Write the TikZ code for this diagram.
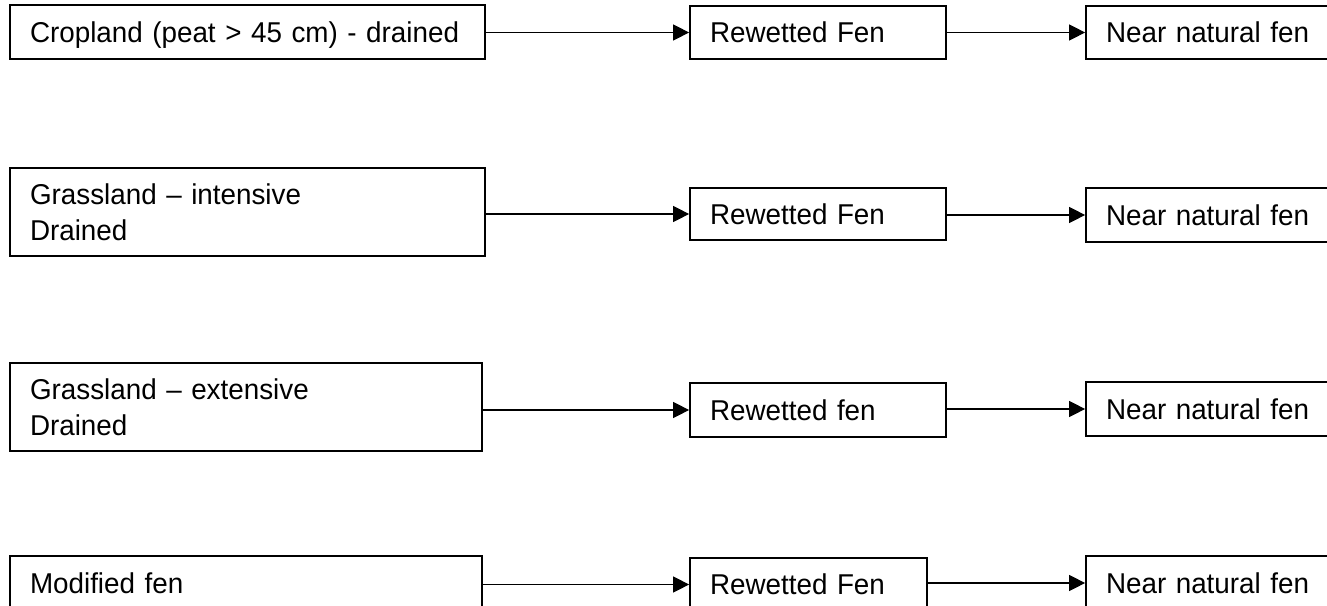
\documentclass[tikz,border=0pt]{standalone}
\usepackage{fontspec}
\setmainfont{Liberation Sans}[FakeStretch=0.97]
\usetikzlibrary{arrows.meta}
\begin{document}
\begin{tikzpicture}[x=0.75pt,y=-0.75pt,
  box/.style={draw=black, line width=1.3pt, rectangle, inner xsep=15pt, inner ysep=0pt,
    align=left, font=\fontsize{21.5}{27}\selectfont, anchor=center},
  oneline/.style={text height=17.6pt, text depth=2pt},
  srcbox/.style={box, minimum width=356.25pt, text width=326.25pt},
  srcboxb/.style={box, minimum width=354pt, text width=324pt},
  rwbox/.style={box, oneline, minimum width=192pt, text width=162pt},
  nnbox/.style={box, oneline, minimum width=190.5pt, text width=160.5pt},
  arr/.style={line width=0.9pt, -{Triangle[length=12pt,width=12pt]}}]
\useasboundingbox (0,0) rectangle (1327,606);
\clip (0,0) rectangle (1327,606);
% row 1
\node[srcbox, oneline, minimum height=40.5pt] (a1) at (247.5,32) {Cropland (peat > 45 cm) - drained};
\node[rwbox, minimum height=39.75pt] (r1) at (818,32.5) {Rewetted Fen};
\node[nnbox, minimum height=39.75pt] (n1) at (1213,32.5) {Near natural fen};
% row 2
\node[srcbox, minimum height=66pt] (a2) at (247.5,212) {Grassland – intensive\\Drained};
\node[rwbox, minimum height=39pt] (r2) at (818,214) {Rewetted Fen};
\node[nnbox, minimum height=40.5pt] (n2) at (1213,215) {Near natural fen};
% row 3
\node[srcboxb, minimum height=66pt] (a3) at (246,407) {Grassland – extensive\\Drained};
\node[rwbox, minimum height=40.5pt] (r3) at (818,410) {Rewetted fen};
\node[nnbox, minimum height=40.5pt] (n3) at (1213,409) {Near natural fen};
% row 4
\node[srcboxb, oneline, minimum height=40.5pt] (a4) at (246,583) {Modified fen};
\node[box, oneline, minimum width=177.75pt, text width=147.75pt, minimum height=39.75pt] (r4) at (808.5,584.5) {Rewetted Fen};
\node[nnbox, minimum height=40.5pt] (n4) at (1213,583) {Near natural fen};
% connectors
\draw[arr] (r1.west -| a1.east) -- (r1.west);
\draw[arr] (n1.west -| r1.east) -- (n1.west);
\draw[arr] (r2.west -| a2.east) -- (r2.west);
\draw[arr] (n2.west -| r2.east) -- (n2.west);
\draw[arr] (r3.west -| a3.east) -- (r3.west);
\draw[arr] (n3.west -| r3.east) -- (n3.west);
\draw[arr] (r4.west -| a4.east) -- (r4.west);
\draw[arr] (n4.west -| r4.east) -- (n4.west);
\end{tikzpicture}
\end{document}
